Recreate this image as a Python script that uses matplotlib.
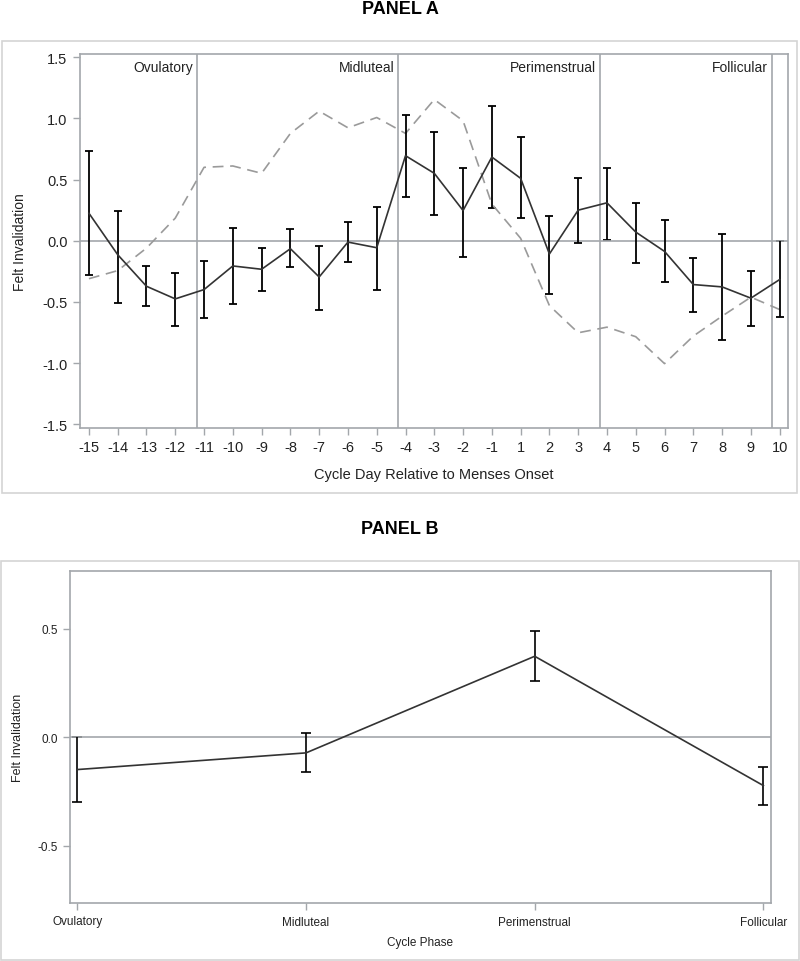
import matplotlib
matplotlib.use('Agg')
import matplotlib.pyplot as plt
from matplotlib.patches import Rectangle

plt.rcParams['font.family'] = ['Liberation Sans', 'DejaVu Sans']
plt.rcParams['axes.unicode_minus'] = False

# panel A: daily values
days = ['-15', '-14', '-13', '-12', '-11', '-10', '-9', '-8', '-7', '-6', '-5', '-4', '-3', '-2', '-1',
        '1', '2', '3', '4', '5', '6', '7', '8', '9', '10']
day_mean = [0.225, -0.114, -0.372, -0.475, -0.399, -0.206, -0.233, -0.065, -0.296, -0.011, -0.057, 0.695, 0.551,
            0.247, 0.684, 0.51, -0.108, 0.25, 0.31, 0.071, -0.087, -0.358, -0.377, -0.469, -0.317]
day_upper = [0.733, 0.247, -0.209, -0.266, -0.168, 0.103, -0.062, 0.10, -0.04, 0.152, 0.277, 1.024, 0.888,
             0.597, 1.102, 0.847, 0.199, 0.51, 0.597, 0.31, 0.168, -0.138, 0.057, -0.244, -0.005]
day_lower = [-0.277, -0.507, -0.535, -0.70, -0.63, -0.516, -0.41, -0.214, -0.564, -0.176, -0.399, 0.356, 0.212,
             -0.13, 0.269, 0.182, -0.437, -0.019, 0.008, -0.184, -0.34, -0.58, -0.814, -0.697, -0.621]
dashed_vals = [-0.31, -0.244, -0.06, 0.185, 0.6, 0.611, 0.551, 0.877, 1.059, 0.923, 1.007, 0.877, 1.154,
               0.98, 0.3, 0.02, -0.53, -0.752, -0.706, -0.784, -1.004, -0.779, -0.616, -0.461, -0.562]
phase_names = ['Ovulatory', 'Midluteal', 'Perimenstrual', 'Follicular']
phase_edges = [3.75, 10.75, 17.75, 23.75]

# panel B: phase values
phase_mean = [-0.149, -0.072, 0.374, -0.223]
phase_upper = [0.0, 0.018, 0.489, -0.138]
phase_lower = [-0.297, -0.158, 0.26, -0.312]

W, H = 800, 962
fig = plt.figure(figsize=(W / 100, H / 100), dpi=100)

def fx(px):
    return px / W

def fy(py):
    return 1 - py / H

ref_col = '#a3a7ab'
frame_col = '#d4d4d4'

# outer frames
fig.patches.append(Rectangle((fx(2), fy(494)), fx(795), 452 / H, transform=fig.transFigure,
                             fill=False, edgecolor=frame_col, lw=1.2))
fig.patches.append(Rectangle((fx(1), fy(961)), fx(798), 399 / H, transform=fig.transFigure,
                             fill=False, edgecolor=frame_col, lw=1.2))

fig.text(0.5, fy(9), 'PANEL A', ha='center', va='center', fontsize=13, fontweight='bold')
fig.text(0.5, fy(530), 'PANEL B', ha='center', va='center', fontsize=13, fontweight='bold')

def style_axes(ax, tick_size):
    for sp in ax.spines.values():
        sp.set_color(ref_col)
        sp.set_linewidth(1.2)
    ax.tick_params(direction='out', length=5, width=1, color=ref_col, labelsize=tick_size,
                   labelcolor='#222222', pad=4)
    ax.axhline(0, color=ref_col, lw=1.2, zorder=1)

def draw_errors(ax, x, mean, lower, upper, lw, cap):
    err = [[m - lo for m, lo in zip(mean, lower)], [hi - m for m, hi in zip(mean, upper)]]
    _, caps, _ = ax.errorbar(x, mean, yerr=err, fmt='none', ecolor='black', elinewidth=lw,
                             capsize=cap, capthick=lw, zorder=3)
    # caps sit under the zero reference line, as in the original
    for c in caps:
        c.set_zorder(0.5)

# ---- Panel A
axA = fig.add_axes([fx(80), fy(429), fx(708), 374.5 / H])
style_axes(axA, 10.5)
xA = list(range(len(days)))
for e in phase_edges:
    axA.axvline(e, color=ref_col, lw=1.2, zorder=1)
for name, e in zip(phase_names, phase_edges):
    axA.annotate(name, xy=(e, 1), xycoords=('data', 'axes fraction'), xytext=(-3, -5),
                 textcoords='offset points', ha='right', va='top', fontsize=10, color='#222222')
axA.plot(xA, dashed_vals, color='#9a9a9a', lw=1.2, dashes=(6.5, 4), zorder=2)
draw_errors(axA, xA, day_mean, day_lower, day_upper, 1.3, 3)
axA.plot(xA, day_mean, color='#333333', lw=1.2, zorder=4)
axA.set_xlim(-0.31, 24.29)
axA.set_ylim(-1.53, 1.53)
axA.set_xticks(xA)
axA.set_xticklabels(days)
axA.set_yticks([-1.5, -1.0, -0.5, 0.0, 0.5, 1.0, 1.5])
axA.set_yticklabels(['%.1f' % v for v in [-1.5, -1.0, -0.5, 0.0, 0.5, 1.0, 1.5]])
axA.set_xlabel('Cycle Day Relative to Menses Onset', fontsize=10.5, color='#222222')
axA.set_ylabel('Felt Invalidation', fontsize=10, color='#222222')
axA.xaxis.label.set_va('center')
axA.yaxis.label.set_va('center')
axA.xaxis.set_label_coords(0.5, -(475 - 429) / 374.5)
axA.yaxis.set_label_coords((20 - 80) / 708, 0.5)

# ---- Panel B
axB = fig.add_axes([fx(70), fy(904), fx(700.7), 332.3 / H])
style_axes(axB, 8.5)
xB = list(range(len(phase_names)))
draw_errors(axB, xB, phase_mean, phase_lower, phase_upper, 1.2, 3.5)
axB.plot(xB, phase_mean, color='#333333', lw=1.2, zorder=4)
axB.set_xlim(-0.032, 3.032)
axB.set_ylim(-0.765, 0.769)
axB.set_xticks(xB)
axB.set_xticklabels(phase_names)
axB.set_yticks([-0.5, 0.0, 0.5])
axB.set_yticklabels(['-0.5', '0.0', '0.5'])
axB.set_xlabel('Cycle Phase', fontsize=8.5, color='#222222')
axB.set_ylabel('Felt Invalidation', fontsize=9, color='#222222')
axB.xaxis.label.set_va('center')
axB.yaxis.label.set_va('center')
axB.xaxis.set_label_coords(0.5, -(943 - 904) / 332.3)
axB.yaxis.set_label_coords((18 - 70) / 700.7, 0.5)

fig.savefig('out.png', dpi=100)
